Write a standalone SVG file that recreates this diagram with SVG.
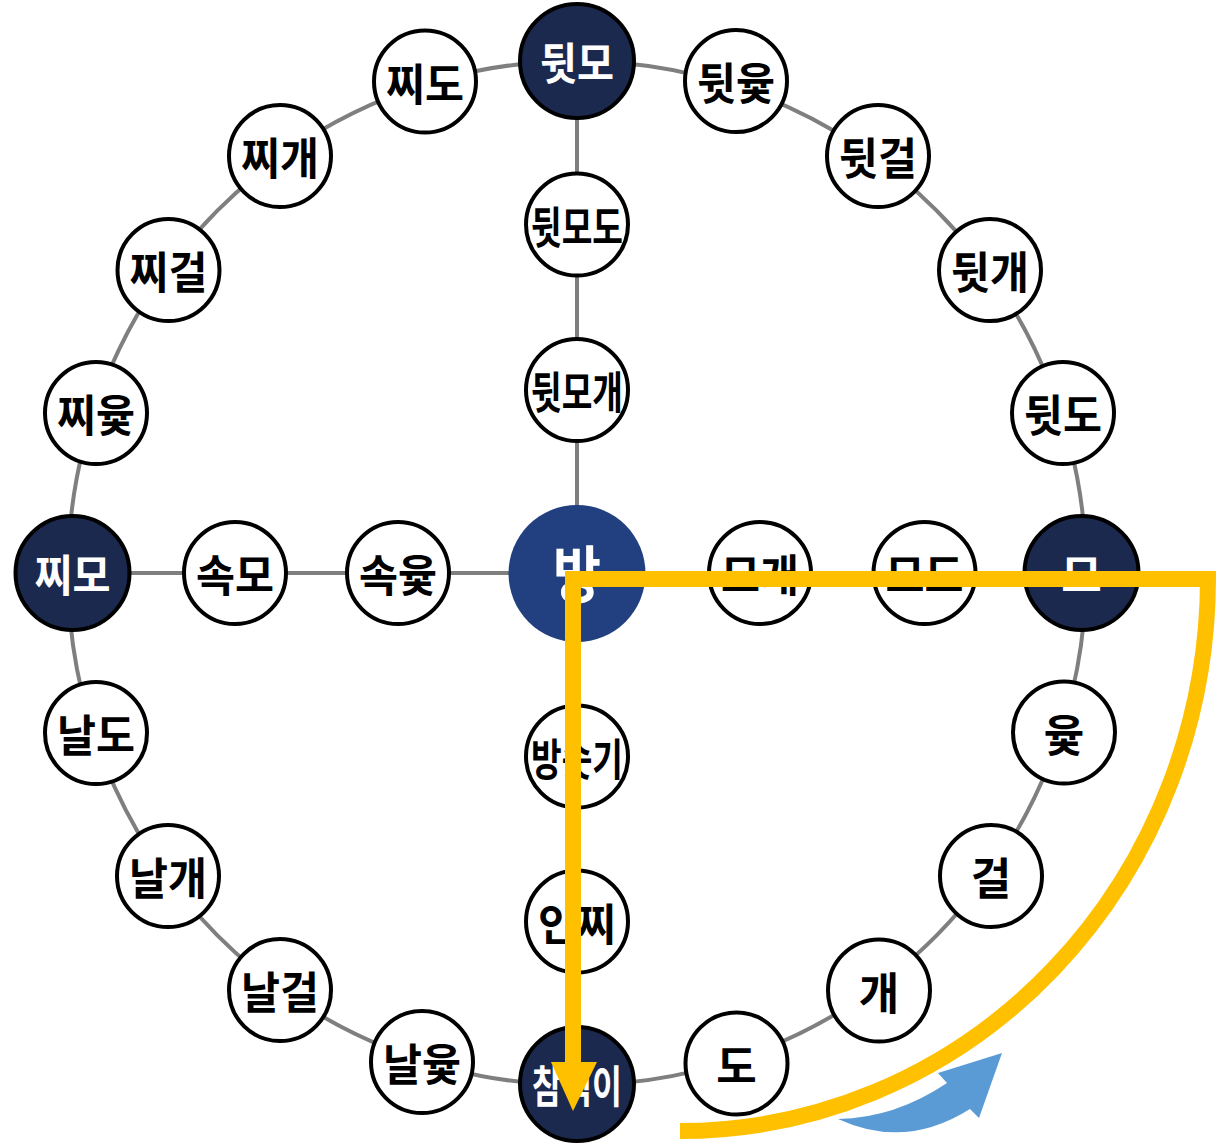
<svg xmlns="http://www.w3.org/2000/svg" width="1217" height="1146" viewBox="0 0 1217 1146">
<style>
.n circle{fill:#fff;stroke:#000;stroke-width:4}
.d circle{fill:#1c294f;stroke:#000;stroke-width:4}
text{font-family:"Noto Sans CJK KR","Noto Sans",sans-serif;font-weight:bold;font-size:44px;text-anchor:middle;dominant-baseline:central}
.n text{fill:#000}
.d text{fill:#fff}
.c{fill:none;stroke:#7f7f7f;stroke-width:4}
</style>
<rect width="1217" height="1146" fill="#fff"/>
<g id="connectors">
<ellipse class="c" cx="577" cy="573" rx="509" ry="512"/>
<line class="c" x1="577" y1="61" x2="577" y2="1084"/>
<line class="c" x1="72" y1="573" x2="1082" y2="573"/>
</g>
<g id="n-chammeogi" class="d"><circle cx="577" cy="1084" r="57"/><text x="577" y="1084" textLength="90" lengthAdjust="spacingAndGlyphs">참먹이</text></g>
<g id="n-do" class="n"><circle cx="736.5" cy="1063.5" r="51"/><text x="736.5" y="1063.5">도</text></g>
<g id="n-gae" class="n"><circle cx="879" cy="990.5" r="51"/><text x="879" y="990.5">개</text></g>
<g id="n-geol" class="n"><circle cx="991" cy="876" r="51"/><text x="991" y="876">걸</text></g>
<g id="n-yut" class="n"><circle cx="1064" cy="732.5" r="51"/><text x="1064" y="732.5">윷</text></g>
<g id="n-mo" class="d"><circle cx="1081.5" cy="573" r="57"/><text x="1081.5" y="573">모</text></g>
<g id="n-dwitdo" class="n"><circle cx="1063" cy="413" r="51"/><text x="1063" y="413" textLength="78" lengthAdjust="spacingAndGlyphs">뒷도</text></g>
<g id="n-dwitgae" class="n"><circle cx="990" cy="270" r="51"/><text x="990" y="270" textLength="78" lengthAdjust="spacingAndGlyphs">뒷개</text></g>
<g id="n-dwitgeol" class="n"><circle cx="878" cy="156" r="51"/><text x="878" y="156" textLength="78" lengthAdjust="spacingAndGlyphs">뒷걸</text></g>
<g id="n-dwityut" class="n"><circle cx="736" cy="81" r="51"/><text x="736" y="81" textLength="78" lengthAdjust="spacingAndGlyphs">뒷윷</text></g>
<g id="n-dwitmo" class="d"><circle cx="577" cy="61" r="57"/><text x="577" y="61" textLength="74" lengthAdjust="spacingAndGlyphs">뒷모</text></g>
<g id="n-jjido" class="n"><circle cx="425" cy="81.5" r="51"/><text x="425" y="81.5" textLength="78" lengthAdjust="spacingAndGlyphs">찌도</text></g>
<g id="n-jjigae" class="n"><circle cx="280" cy="156" r="51"/><text x="280" y="156" textLength="78" lengthAdjust="spacingAndGlyphs">찌개</text></g>
<g id="n-jjigeol" class="n"><circle cx="168.5" cy="270" r="51"/><text x="168.5" y="270" textLength="78" lengthAdjust="spacingAndGlyphs">찌걸</text></g>
<g id="n-jjiyut" class="n"><circle cx="96" cy="413" r="51"/><text x="96" y="413" textLength="78" lengthAdjust="spacingAndGlyphs">찌윷</text></g>
<g id="n-jjimo" class="d"><circle cx="72.5" cy="573" r="57"/><text x="72.5" y="573" textLength="76" lengthAdjust="spacingAndGlyphs">찌모</text></g>
<g id="n-naldo" class="n"><circle cx="96" cy="733" r="51"/><text x="96" y="733" textLength="78" lengthAdjust="spacingAndGlyphs">날도</text></g>
<g id="n-nalgae" class="n"><circle cx="168" cy="876" r="51"/><text x="168" y="876" textLength="78" lengthAdjust="spacingAndGlyphs">날개</text></g>
<g id="n-nalgeol" class="n"><circle cx="280" cy="990" r="51"/><text x="280" y="990" textLength="78" lengthAdjust="spacingAndGlyphs">날걸</text></g>
<g id="n-nalyut" class="n"><circle cx="422" cy="1062" r="51"/><text x="422" y="1062" textLength="78" lengthAdjust="spacingAndGlyphs">날윷</text></g>
<g id="n-dwitmodo" class="n"><circle cx="577" cy="224.5" r="51"/><text x="577" y="224.5" textLength="92" lengthAdjust="spacingAndGlyphs">뒷모도</text></g>
<g id="n-dwitmogae" class="n"><circle cx="577" cy="390" r="51"/><text x="577" y="390" textLength="92" lengthAdjust="spacingAndGlyphs">뒷모개</text></g>
<g id="n-bangsotgi" class="n"><circle cx="577" cy="756.5" r="51"/><text x="577" y="756.5" textLength="92" lengthAdjust="spacingAndGlyphs">방솟기</text></g>
<g id="n-injji" class="n"><circle cx="577" cy="921.5" r="51"/><text x="577" y="921.5" textLength="78" lengthAdjust="spacingAndGlyphs">인찌</text></g>
<g id="n-sokmo" class="n"><circle cx="235" cy="573" r="51"/><text x="235" y="573" textLength="78" lengthAdjust="spacingAndGlyphs">속모</text></g>
<g id="n-sokyut" class="n"><circle cx="398" cy="573" r="51"/><text x="398" y="573" textLength="78" lengthAdjust="spacingAndGlyphs">속윷</text></g>
<g id="n-mogae" class="n"><circle cx="760" cy="573" r="51"/><text x="760" y="573" textLength="78" lengthAdjust="spacingAndGlyphs">모개</text></g>
<g id="n-modo" class="n"><circle cx="924.5" cy="573" r="51"/><text x="924.5" y="573" textLength="78" lengthAdjust="spacingAndGlyphs">모도</text></g>
<g id="n-bang"><circle cx="577" cy="573.5" r="68.5" fill="#22407f"/><text x="577" y="571" style="font-size:62px;fill:#fff" textLength="48" lengthAdjust="spacingAndGlyphs">방</text></g>
<g id="overlay">
<path d="M838 1119 Q905 1150 970 1109 L979 1118 L1002 1053 L938 1073 L947 1083 Q895 1118 838 1119 Z" fill="#5b9bd5"/>
<path d="M573 1065 V579 H1208 A528 553 0 0 1 680 1131" fill="none" stroke="#ffc000" stroke-width="16" stroke-linejoin="miter"/>
<polygon points="551,1062 597,1062 573,1111" fill="#ffc000"/>
</g>
</svg>
